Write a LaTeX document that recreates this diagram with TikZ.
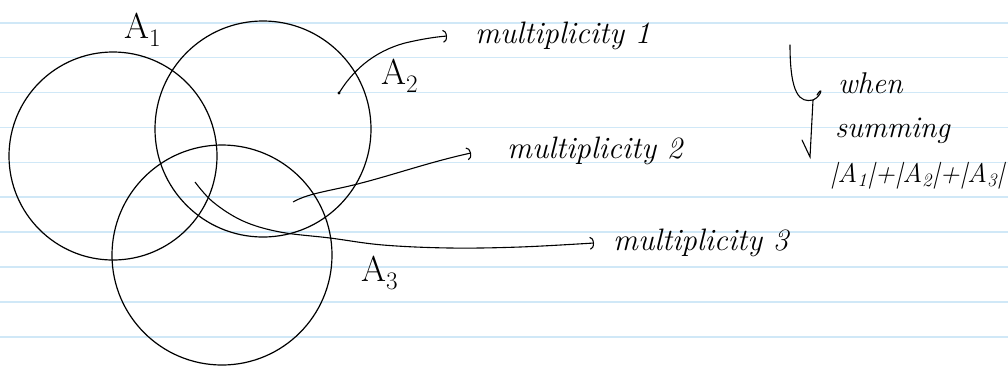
\documentclass[tikz,border=0pt]{standalone}
\usetikzlibrary{arrows.meta}
\definecolor{ruling}{RGB}{208,232,247}
\tikzset{
  setc/.style={circle, draw=black, line width=1.2pt, inner sep=0pt},
  hand/.style={font=\fontsize{31}{36}\selectfont\itshape, inner sep=0pt, text=black},
  lab/.style={font=\fontsize{36}{40}\selectfont, inner sep=0pt, text=black},
  conn/.style={line width=1.1pt, -{Arc Barb[length=4pt,width=13pt,line width=1.1pt]}},
}
\begin{document}
\begin{tikzpicture}[x=1pt,y=-1pt]
\useasboundingbox (0,0) rectangle (1008,365);
\fill[white] (0,0) rectangle (1008,365);
% ruled paper
\foreach \k in {0,...,9}{
  \draw[ruling, line width=1.6pt] (0,{22.7+34.9*\k}) -- (1008,{22.7+34.9*\k});
}
% sets
\node[setc, minimum size=208pt] (c1) at (113,156) {};
\node[setc, minimum size=216pt] (c2) at (263,129) {};
\node[setc, minimum size=220pt] (c3) at (222,255) {};
\node[lab, anchor=base west] (l1) at (124,38) {A\textsubscript{1}};
\node[lab, anchor=base west] (l2) at (381,84) {A\textsubscript{2}};
\node[lab, anchor=base west] (l3) at (361,281) {A\textsubscript{3}};
% texts
\node[hand, anchor=base west] (m1) at (475,43) {multiplicity 1};
\node[hand, anchor=base west] (m2) at (507,158) {multiplicity 2};
\node[hand, anchor=base west] (m3) at (613,250) {multiplicity 3};
\node[hand, anchor=base west, font=\fontsize{30}{34}\selectfont\itshape] (w1) at (838,93) {when};
\node[hand, anchor=base west, font=\fontsize{30}{34}\selectfont\itshape] (w2) at (835,137) {summing};
\node[hand, anchor=base west, font=\fontsize{27}{32}\selectfont\itshape] (w3) at (830,182) {|A\textsubscript{1}|+|A\textsubscript{2}|+|A\textsubscript{3}|};
% connectors
\coordinate (s1) at (339,93);
\coordinate (t1) at (447,36);
\fill (s1) circle (1.7pt);
\draw[conn] (s1) .. controls (352,72) and (372,52) .. (405,43) .. controls (422,39) and (435,37) .. (t1);
\coordinate (s2) at (293,202);
\coordinate (t2) at (471,153);
\draw[conn] (s2) .. controls (305,195) and (322,192) .. (345,187) .. controls (385,178) and (425,163) .. (t2);
\coordinate (s3) at (195,182);
\coordinate (t3) at (594,243);
\draw[conn] plot[smooth, tension=0.6] coordinates {(s3) (213,202) (243,221) (280,232) (330,238) (383,245) (450,248) (520,247) (t3)};
% side mark
\coordinate (b0) at (790,45);
\coordinate (b1) at (813,100);
\coordinate (b2) at (810,157);
\draw[line width=1.1pt, line cap=round] (b0) .. controls (790,95) and (800,103) .. (b1) .. controls (822,96) and (823,85) .. (817,95);
\draw[line width=1.1pt, line cap=round] (b1) -- (b2) -- (802,140);
\end{tikzpicture}
\end{document}
